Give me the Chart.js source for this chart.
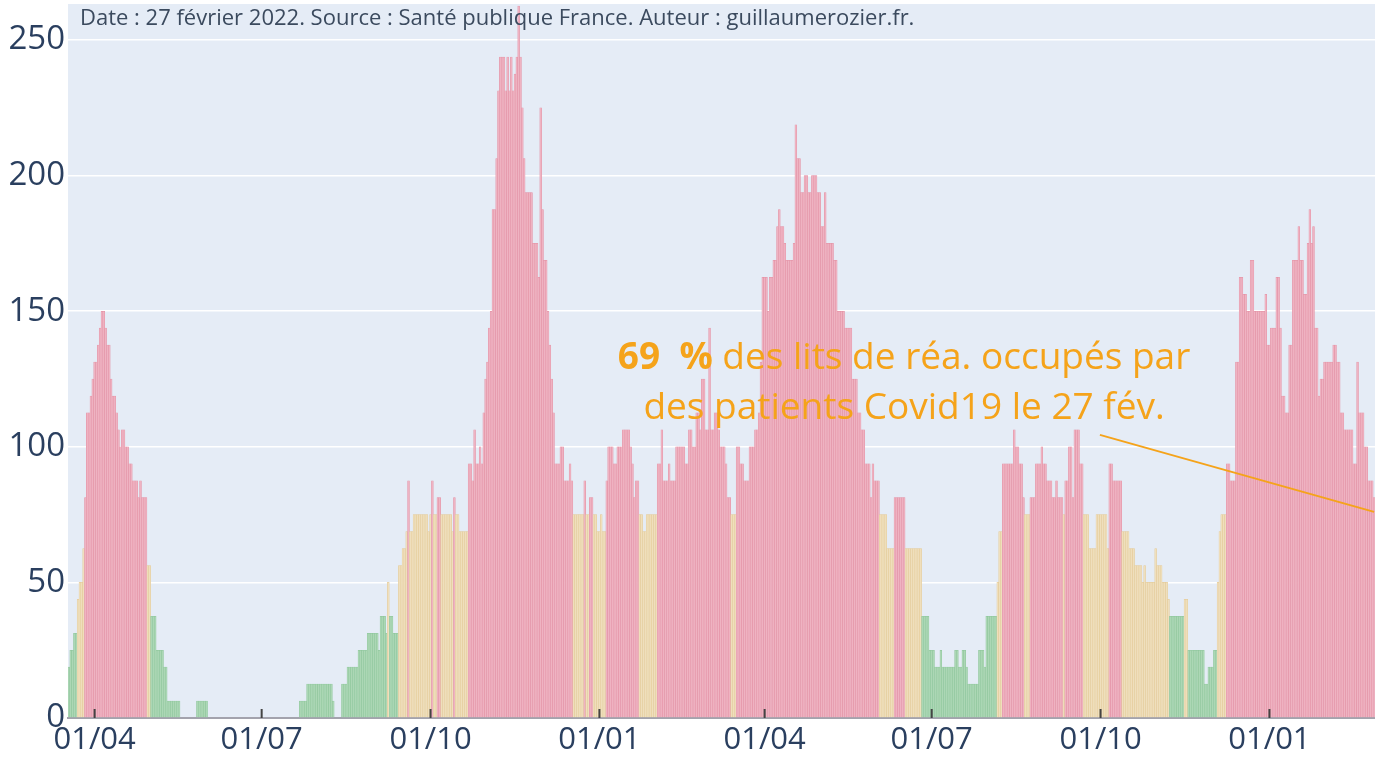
<!DOCTYPE html>
<html>
<head>
<meta charset="utf-8">
<script src="https://cdn.jsdelivr.net/npm/chart.js@4.4.0/dist/chart.umd.min.js"></script>
<style>
  html, body { margin: 0; padding: 0; background: #fff; }
  #wrap { width: 1375px; height: 759px; }
</style>
</head>
<body>
<div id="wrap"><canvas id="chart" width="1375" height="759"></canvas></div>
<script>
// taux d'occupation des lits de réa (en %), un point par jour depuis le 18/03/2020
const startDate = "2020-03-18";

const values2020 = [
  18.75, 25, 25, 31.25, 31.25, 43.75, 50, 50, 62.5, 81.25,
  112.5, 112.5, 118.75, 125, 131.25, 131.25, 137.5, 143.75, 150, 150,
  143.75, 137.5, 137.5, 125, 118.75, 118.75, 112.5, 106.25, 100, 106.25,
  106.25, 100, 100, 93.75, 93.75, 87.5, 87.5, 87.5, 81.25, 87.5,
  81.25, 81.25, 81.25, 56.25, 56.25, 37.5, 37.5, 37.5, 25, 25,
  25, 25, 18.75, 18.75, 6.25, 6.25, 6.25, 6.25, 6.25, 6.25,
  6.25, 0, 0, 0, 0, 0, 0, 0, 0, 0,
  6.25, 6.25, 6.25, 6.25, 6.25, 6.25, 0, 0, 0, 0,
  0, 0, 0, 0, 0, 0, 0, 0, 0, 0,
  0, 0, 0, 0, 0, 0, 0, 0, 0, 0,
  0, 0, 0, 0, 0, 0, 0, 0, 0, 0,
  0, 0, 0, 0, 0, 0, 0, 0, 0, 0,
  0, 0, 0, 0, 0, 0, 6.25, 6.25, 6.25, 6.25,
  12.5, 12.5, 12.5, 12.5, 12.5, 12.5, 12.5, 12.5, 12.5, 12.5,
  12.5, 12.5, 12.5, 12.5, 6.25, 0, 0, 0, 0, 12.5,
  12.5, 12.5, 18.75, 18.75, 18.75, 18.75, 18.75, 18.75, 25, 25,
  25, 25, 25, 31.25, 31.25, 31.25, 31.25, 31.25, 31.25, 25,
  37.5, 37.5, 37.5, 31.25, 50, 37.5, 37.5, 31.25, 31.25, 31.25,
  56.25, 56.25, 62.5, 62.5, 68.75, 87.5, 68.75, 68.75, 75, 75,
  75, 75, 75, 75, 75, 75, 68.75, 75, 87.5, 75,
  75, 81.25, 81.25, 75, 75, 75, 75, 75, 75, 68.75,
  81.25, 75, 75, 68.75, 68.75, 68.75, 68.75, 68.75, 93.75, 93.75,
  87.5, 106.25, 93.75, 93.75, 100, 93.75, 112.5, 125, 131.25, 143.75,
  150, 187.5, 187.5, 206.25, 231.25, 243.75, 243.75, 243.75, 231.25, 243.75,
  231.25, 243.75, 231.25, 237.5, 243.75, 262.5, 243.75, 225, 206.25, 193.75,
  193.75, 193.75, 193.75, 175, 175, 175, 162.5, 225, 187.5, 168.75,
  168.75, 150, 137.5, 125, 112.5, 93.75, 93.75, 93.75, 100, 100,
  87.5, 87.5, 87.5, 93.75, 87.5, 75, 75, 75, 75, 75,
  75, 87.5, 75, 75, 81.25, 81.25, 75, 75, 68.75
];

const values2021 = [
  68.75, 75, 68.75, 68.75, 87.5, 100, 100, 100, 93.75, 93.75, 100,
  100, 100, 106.25, 106.25, 106.25, 106.25, 100, 93.75, 81.25, 87.5,
  87.5, 75, 75, 68.75, 68.75, 75, 75, 75, 75, 75,
  75, 93.75, 93.75, 106.25, 87.5, 87.5, 87.5, 93.75, 87.5, 87.5,
  87.5, 100, 100, 100, 100, 100, 93.75, 93.75, 106.25, 106.25,
  100, 100, 112.5, 112.5, 106.25, 125, 125, 106.25, 106.25, 143.75,
  106.25, 106.25, 112.5, 112.5, 106.25, 100, 100, 100, 93.75, 81.25,
  81.25, 75, 75, 75, 100, 100, 93.75, 93.75, 87.5, 87.5,
  87.5, 100, 100, 100, 106.25, 106.25, 112.5, 131.25, 162.5, 162.5,
  162.5, 150, 162.5, 162.5, 168.75, 168.75, 181.25, 187.5, 181.25, 181.25,
  175, 168.75, 168.75, 168.75, 168.75, 175, 218.75, 206.25, 206.25, 193.75,
  193.75, 200, 200, 193.75, 193.75, 200, 200, 200, 193.75, 193.75,
  181.25, 181.25, 193.75, 175, 175, 175, 175, 168.75, 168.75, 150,
  150, 150, 150, 143.75, 143.75, 143.75, 143.75, 125, 125, 125,
  112.5, 112.5, 106.25, 106.25, 93.75, 93.75, 93.75, 81.25, 93.75, 87.5,
  87.5, 87.5, 75, 75, 75, 75, 62.5, 62.5, 62.5, 62.5,
  81.25, 81.25, 81.25, 81.25, 81.25, 81.25, 62.5, 62.5, 62.5, 62.5,
  62.5, 62.5, 62.5, 62.5, 62.5, 37.5, 37.5, 37.5, 37.5, 25,
  25, 25, 18.75, 18.75, 18.75, 25, 18.75, 18.75, 18.75, 18.75,
  18.75, 18.75, 18.75, 25, 25, 18.75, 18.75, 25, 25, 18.75,
  12.5, 12.5, 12.5, 12.5, 12.5, 12.5, 25, 25, 25, 18.75,
  37.5, 37.5, 37.5, 37.5, 37.5, 37.5, 50, 68.75, 68.75, 93.75,
  93.75, 93.75, 93.75, 93.75, 93.75, 106.25, 100, 100, 93.75, 93.75,
  81.25, 75, 75, 75, 81.25, 81.25, 81.25, 93.75, 93.75, 93.75,
  100, 93.75, 93.75, 87.5, 87.5, 87.5, 81.25, 81.25, 87.5, 81.25,
  81.25, 81.25, 75, 87.5, 87.5, 100, 100, 81.25, 106.25, 106.25,
  106.25, 93.75, 93.75, 75, 75, 75, 62.5, 62.5, 62.5, 62.5,
  75, 75, 75, 75, 75, 75, 62.5, 93.75, 93.75, 87.5,
  87.5, 87.5, 87.5, 87.5, 68.75, 68.75, 68.75, 68.75, 62.5, 62.5,
  62.5, 56.25, 56.25, 56.25, 56.25, 50, 56.25, 50, 50, 50,
  50, 50, 62.5, 56.25, 56.25, 56.25, 50, 50, 50, 43.75,
  37.5, 37.5, 37.5, 37.5, 37.5, 37.5, 37.5, 37.5, 43.75, 43.75,
  25, 25, 25, 25, 25, 25, 25, 25, 25, 12.5,
  12.5, 18.75, 18.75, 18.75, 25, 25, 50, 68.75, 75, 75,
  75, 93.75, 93.75, 87.5, 87.5, 87.5, 131.25, 131.25, 162.5, 162.5,
  156.25, 156.25, 150, 150, 168.75, 168.75, 150, 150, 150, 150,
  150, 150, 156.25, 137.5
];

const values2022 = [
  137.5, 143.75, 143.75, 143.75, 162.5, 162.5,
  143.75, 118.75, 118.75, 112.5, 112.5, 137.5, 137.5, 168.75, 168.75, 168.75,
  181.25, 168.75, 168.75, 156.25, 156.25, 175, 187.5, 175, 181.25, 143.75,
  143.75, 118.75, 125, 125, 131.25, 131.25, 131.25, 131.25, 131.25, 137.5,
  137.5, 131.25, 131.25, 112.5, 112.5, 106.25, 106.25, 106.25, 106.25, 106.25,
  93.75, 93.75, 131.25, 112.5, 112.5, 112.5, 100, 100, 87.5, 87.5, 87.5, 81.25
];

const yTicks = [0, 50, 100, 150, 200, 250];
const xTickDays = ["01/01", "01/04", "01/07", "01/10"];
const sourceText = "Date : 27 février 2022. Source : Santé publique France. Auteur : guillaumerozier.fr.";
const annotBold = "69  %";
const annotLine1 = " des lits de réa. occupés par";
const annotLine2 = "des patients Covid19 le 27 fév.";
const arrowValue = 76;

const occupancy = values2020.concat(values2021, values2022);

// libellés jour/mois
const labels = [];
const d0 = new Date(startDate + "T12:00:00Z");
for (let i = 0; i < occupancy.length; i++) {
  const d = new Date(d0.getTime() + i * 86400000);
  labels.push(String(d.getUTCDate()).padStart(2, "0") + "/" + String(d.getUTCMonth() + 1).padStart(2, "0"));
}

// couleurs selon le seuil
function fillColor(v) {
  if (v >= 80) return "#efb3c2";
  if (v >= 40) return "#efdfbd";
  return "#acd7b5";
}
function edgeColor(v) {
  if (v >= 80) return "#e28fa3";
  if (v >= 40) return "#e3c995";
  return "#8cc59a";
}

const FONT = "'Open Sans', 'DejaVu Sans', sans-serif";
const ORANGE = "#f5a31a";

const plotBg = {
  id: "plotBg",
  beforeDraw(chart) {
    const { ctx, chartArea } = chart;
    ctx.save();
    ctx.fillStyle = "#ffffff";
    ctx.fillRect(0, 0, chart.width, chart.height);
    ctx.fillStyle = "#e5ecf6";
    ctx.fillRect(chartArea.left, chartArea.top, chartArea.right - chartArea.left, chartArea.bottom - chartArea.top);
    ctx.restore();
  }
};

const overlay = {
  id: "overlay",
  afterDatasetsDraw(chart) {
    const { ctx, chartArea, scales } = chart;
    const xs = scales.x, ys = scales.y;
    ctx.save();

    // petits traits de graduation
    ctx.strokeStyle = "#444";
    ctx.lineWidth = 2;
    xs.ticks.forEach((t, i) => {
      const px = xs.getPixelForTick(i);
      ctx.beginPath();
      ctx.moveTo(px, chartArea.bottom);
      ctx.lineTo(px, chartArea.bottom - 9);
      ctx.stroke();
    });

    // source
    ctx.fillStyle = "#3b4a5e";
    ctx.font = "22px " + FONT;
    ctx.textBaseline = "alphabetic";
    ctx.textAlign = "left";
    ctx.fillText(sourceText, 80, 25);

    // annotation + flèche
    const tipX = xs.getPixelForValue(occupancy.length - 1);
    const tipY = ys.getPixelForValue(arrowValue);
    const cx = tipX - 470, cy = tipY - 132;
    const boxBottom = cy + 55;
    const t = (boxBottom - cy) / (tipY - cy);
    ctx.strokeStyle = ORANGE;
    ctx.lineWidth = 2;
    ctx.beginPath();
    ctx.moveTo(cx + (tipX - cx) * t, boxBottom);
    ctx.lineTo(tipX, tipY);
    ctx.stroke();

    ctx.fillStyle = ORANGE;
    ctx.font = "bold 37px " + FONT;
    const wb = ctx.measureText(annotBold).width;
    ctx.font = "37px " + FONT;
    const wr = ctx.measureText(annotLine1).width;
    const x1 = cx - (wb + wr) / 2;
    ctx.font = "bold 37px " + FONT;
    ctx.fillText(annotBold, x1, cy - 11);
    ctx.font = "37px " + FONT;
    ctx.fillText(annotLine1, x1 + wb, cy - 11);
    ctx.textAlign = "center";
    ctx.fillText(annotLine2, cx, cy + 39);

    ctx.restore();
  }
};

const ctx = document.getElementById("chart").getContext("2d");
new Chart(ctx, {
  type: "bar",
  data: {
    labels: labels,
    datasets: [{
      data: occupancy,
      backgroundColor: occupancy.map(fillColor),
      borderColor: occupancy.map(edgeColor),
      borderWidth: 0.5,
      borderSkipped: "bottom",
      barPercentage: 1,
      categoryPercentage: 1
    }]
  },
  options: {
    responsive: false,
    animation: false,
    devicePixelRatio: 1,
    layout: { padding: { top: 4, right: 0, bottom: 0, left: 0 } },
    plugins: { legend: { display: false }, tooltip: { enabled: false } },
    scales: {
      x: {
        grid: { display: false, drawTicks: false },
        border: { display: true, color: "#a3a3ad", width: 2 },
        ticks: {
          autoSkip: false,
          maxRotation: 0,
          padding: 4,
          color: "#2a3f5f",
          font: { family: FONT, size: 31 },
          callback: function (v) { return this.getLabelForValue(v); }
        },
        afterBuildTicks(scale) {
          scale.ticks = scale.ticks.filter(t => xTickDays.includes(labels[t.value]));
        },
        afterFit(scale) {
          scale.height = 41;
          scale.paddingLeft = 0;
          scale.paddingRight = 0;
        }
      },
      y: {
        min: 0,
        max: 263.3,
        grid: { color: "#ffffff", lineWidth: 1.5, drawTicks: false },
        border: { display: false },
        ticks: {
          padding: 3,
          color: "#2a3f5f",
          font: { family: FONT, size: 33 }
        },
        afterBuildTicks(scale) {
          scale.ticks = yTicks.map(v => ({ value: v }));
        },
        afterFit(scale) {
          scale.width = 68;
          scale.paddingTop = 0;
          scale.paddingBottom = 0;
        }
      }
    }
  },
  plugins: [plotBg, overlay]
});
</script>
</body>
</html>
